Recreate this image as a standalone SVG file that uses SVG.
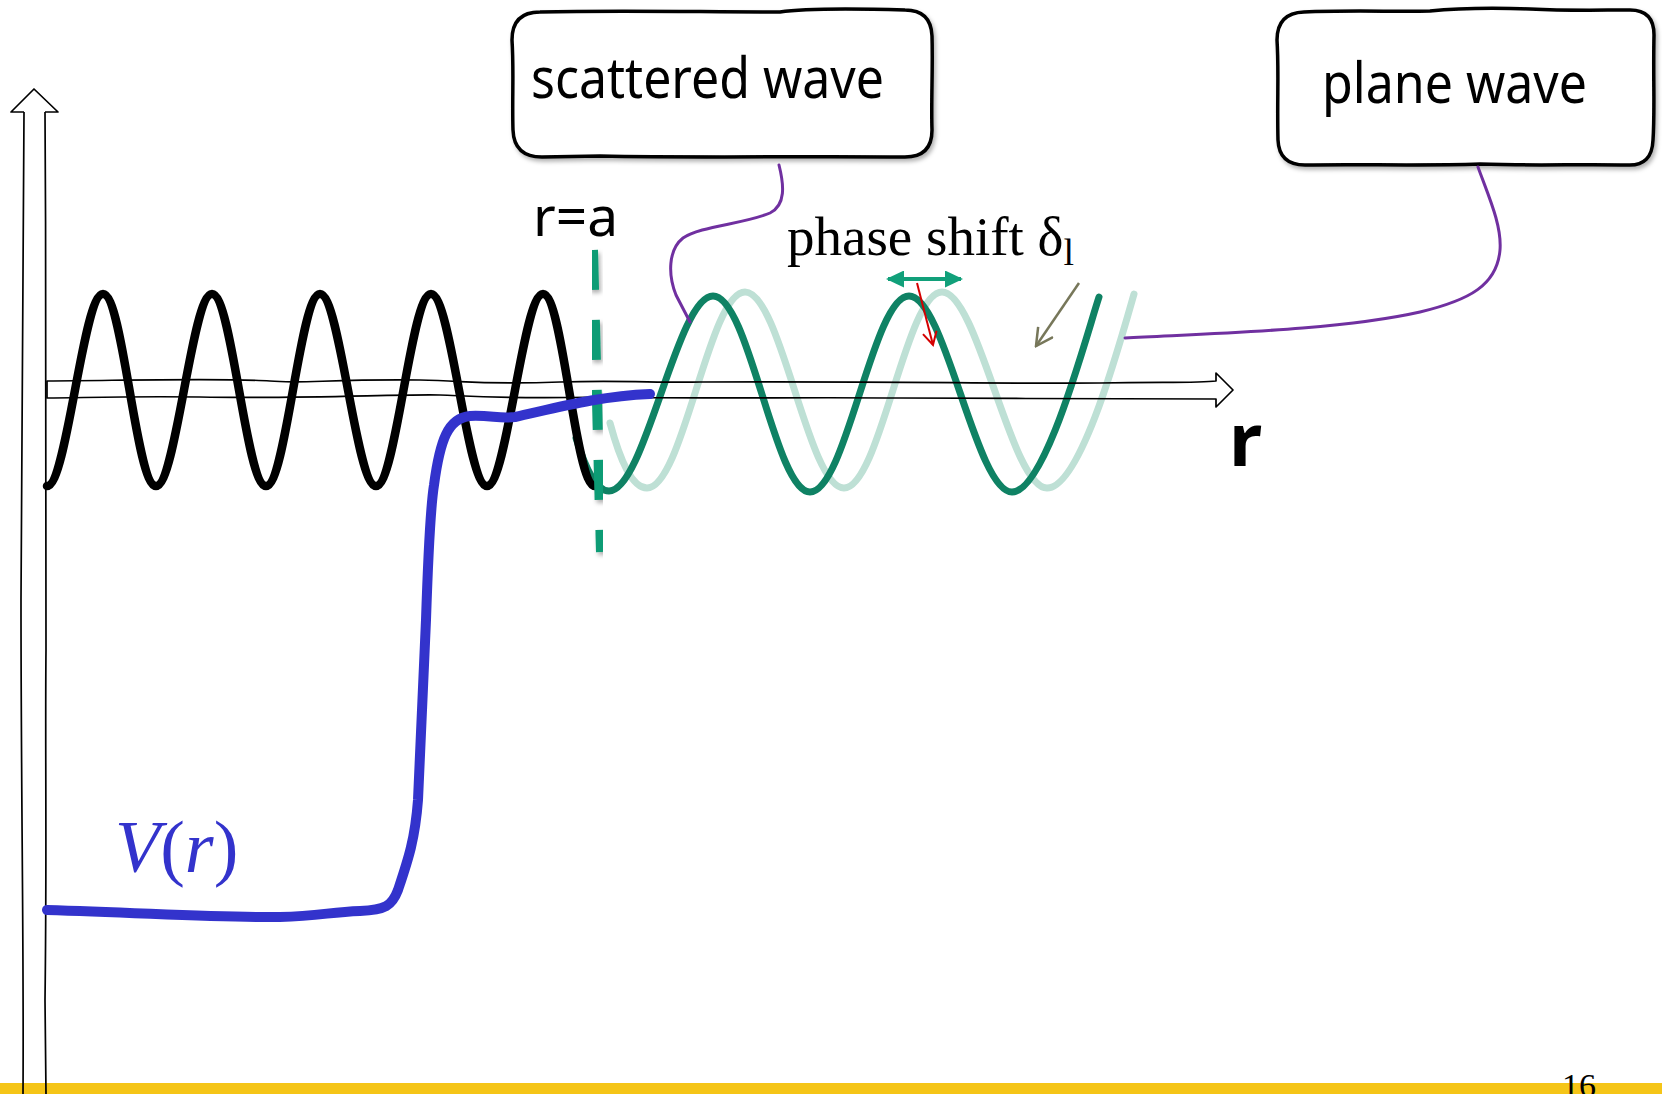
<svg xmlns="http://www.w3.org/2000/svg" width="1662" height="1094" viewBox="0 0 1662 1094">
<style>
.ax{fill:none;stroke:#000;stroke-width:1.7;stroke-linejoin:round}
.box{fill:#fff;stroke:#000;stroke-width:3.5;stroke-linejoin:round}
.lbl{font-family:"Noto Sans","DejaVu Sans",sans-serif;fill:#000}
.conn{fill:none;stroke:#7030A0;stroke-width:3;stroke-linecap:round}
.wave{fill:none;stroke-linecap:round}
</style>
<defs>
<filter id="sh" x="-10%" y="-10%" width="130%" height="140%">
<feDropShadow dx="2" dy="3" stdDeviation="2" flood-color="#000" flood-opacity="0.3"/>
</filter>
<marker id="mG" viewBox="0 0 18 17" refX="16" refY="8.5" markerWidth="18" markerHeight="17" markerUnits="userSpaceOnUse" orient="auto-start-reverse">
<path d="M0,0 L18,8.5 L0,17 z" fill="#11A07A"/>
</marker>
<marker id="mR" viewBox="0 0 16 16" refX="14" refY="8" markerWidth="16" markerHeight="16" markerUnits="userSpaceOnUse" orient="auto">
<path d="M1,1 L14,8 L1,15" fill="none" stroke="#D40000" stroke-width="2"/>
</marker>
<marker id="mO" viewBox="0 0 20 20" refX="18" refY="10" markerWidth="20" markerHeight="20" markerUnits="userSpaceOnUse" orient="auto">
<path d="M1,1 L18,10 L1,19" fill="none" stroke="#77775A" stroke-width="2.5"/>
</marker>
</defs>
<rect width="1662" height="1094" fill="#fff"/>
<rect id="footer-bar" x="0" y="1083" width="1662" height="11" fill="#F5C518"/>
<text id="page-num" x="1562" y="1097" font-family="'Liberation Serif',serif" font-size="34" fill="#000">16</text>

<g id="plane-wave-curve">
<path class="wave" stroke="#BEE0D5" stroke-width="7" d="M610,423 C620,460 632,488 647,488 C683,488 709,292 745,292 C781,292 808,488 844,488 C880,488 906,292 942,292 C978,292 1011,488 1047,488 C1080,488 1118,350 1134,294"/>
</g>
<g id="scattered-wave-curve">
<path class="wave" stroke="#0F8264" stroke-width="7" d="M576,438 C586,470 596,491 609,491 C645,491 677,296 713,296 C749,296 775,492 810,492 C846,492 873,296 909,296 C945,296 976,492 1012,492 C1045,492 1085,340 1099,297"/>
</g>

<g id="axes">
<path class="ax" d="M24,112 C23,300 21,450 21,600 C21,800 24,950 23,1094"/>
<path class="ax" d="M45,112 C46,300 47,500 46,650 C45,750 47,850 45,1000 L46,1094"/>
<path class="ax" fill="#fff" d="M24,112 L11,112 L34,89 L58,112 L45,112"/>
<path class="ax" d="M47,381 C150,380 230,378 270,381 C300,384 330,379 420,380 C470,381 480,385 560,382 C620,380 660,383 700,382 C900,381 1000,384 1100,383 C1170,382 1200,383 1216,381 L1216,373 L1233,390 L1216,407 L1216,399 C1150,398 1000,399 900,398 C800,397 700,399 600,397 C500,399 470,396 440,395 C400,394 300,399 200,397 C120,396 80,398 47,398 Z"/>
</g>

<g id="inner-wave">
<path class="wave" stroke="#000" stroke-width="8.5" d="M47,486 C67,486 83,294 103,294 C123,294 136,486 156,486 C176,486 192,294 212,294 C232,294 246,486 266,486 C286,486 300,294 320,294 C340,294 356,486 376,486 C396,486 411,294 431,294 C451,294 467,486 487,486 C507,486 523,294 543,294 C563,294 575,486 595,486"/>
</g>

<g id="r-equals-a-line">
<path d="M593,250 L601,552" fill="none" stroke="#0E9C74" stroke-width="10" stroke-dasharray="40 30" filter="url(#sh)"/>
</g>

<g id="potential">
<path class="wave" stroke="#3333CC" stroke-width="10" d="M47,910 C150,913 220,918 280,917 C320,916 330,912 360,911 C385,910 392,906 398,890 C408,860 415,840 418,800 C421,740 423,680 426,620 C428,560 430,510 434,485 C440,440 448,418 470,416 C490,415 500,419 515,417 C560,407 600,396 650,394"/>
<text id="label-V" x="115" y="872" font-family="'Liberation Serif',serif" font-size="74" fill="#3333CC"><tspan font-style="italic">V</tspan>(<tspan font-style="italic">r</tspan>)</text>
</g>

<g id="box-scattered">
<path class="box" filter="url(#sh)" d="M540,12 C620,10 700,12 780,12 C800,9 830,8 905,10 Q931,10 932,36 C933,70 931,100 932,130 Q932,157 905,157 C800,156 700,158 600,156 L542,157 Q514,157 513,130 C512,100 514,70 512,40 Q512,12 540,12 Z"/>
<text class="lbl" x="531" y="98" font-size="56" textLength="353" lengthAdjust="spacingAndGlyphs">scattered wave</text>
</g>

<g id="box-plane">
<path class="box" filter="url(#sh)" d="M1304,12 C1350,10 1400,12 1430,11 C1460,8 1500,8 1530,9 C1570,11 1600,10 1630,10 Q1654,10 1654,35 C1653,80 1655,110 1653,140 Q1652,166 1628,165 C1580,164 1530,166 1480,164 C1420,166 1360,164 1305,165 Q1279,165 1278,140 C1277,100 1279,70 1277,40 Q1277,13 1304,12 Z"/>
<text class="lbl" x="1322" y="103" font-size="56" textLength="265" lengthAdjust="spacingAndGlyphs">plane wave</text>
</g>

<g id="label-ra">
<text class="lbl" x="533" y="236" font-size="55">r=a</text>
</g>
<g id="label-r">
<text class="lbl" x="1229" y="466" font-size="74" font-weight="bold">r</text>
</g>
<g id="label-phase">
<text x="787" y="255" font-family="'Liberation Serif',serif" font-size="55" fill="#000">phase shift δ<tspan font-size="38" dy="10">l</tspan></text>
</g>

<g id="connectors">
<path class="conn" d="M779,165 C784,185 786,205 770,213 C745,224 700,226 683,238 C668,250 668,275 676,295 L690,322"/>
<path class="conn" d="M1478,167 C1488,195 1502,225 1500,250 C1497,285 1470,300 1420,312 C1340,330 1220,333 1125,338"/>
<line x1="888" y1="279" x2="961" y2="279" stroke="#11A07A" stroke-width="4" marker-start="url(#mG)" marker-end="url(#mG)"/>
<line x1="917" y1="283" x2="933" y2="345" stroke="#D40000" stroke-width="2" marker-end="url(#mR)"/>
<line x1="1079" y1="283" x2="1036" y2="346" stroke="#77775A" stroke-width="2.5" marker-end="url(#mO)"/>
</g>
</svg>
